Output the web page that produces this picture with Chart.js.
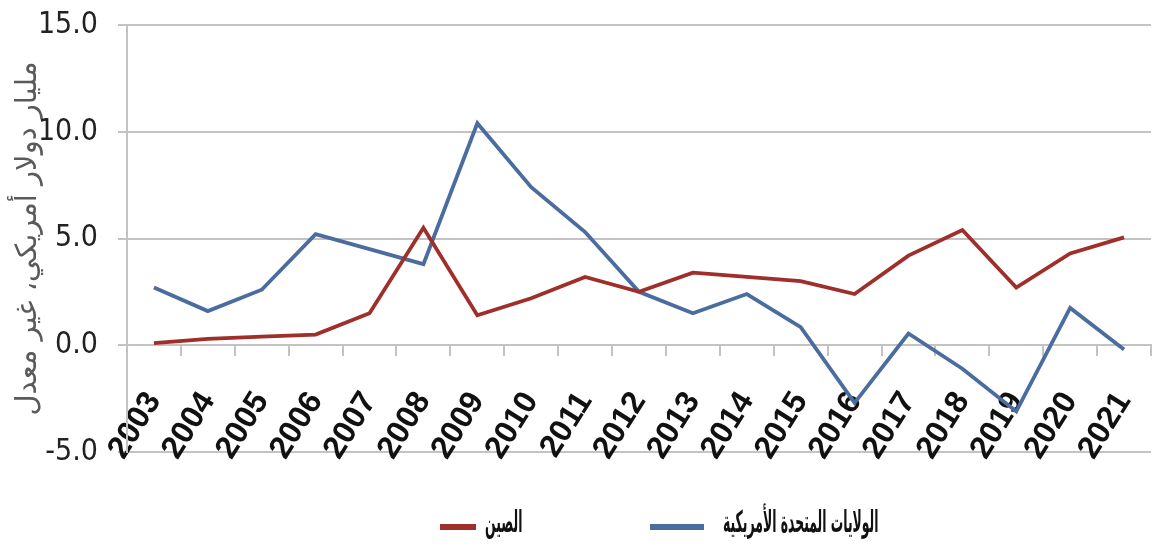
<!DOCTYPE html>
<html>
<head>
<meta charset="utf-8">
<script src="https://cdn.jsdelivr.net/npm/chart.js@4.4.1/dist/chart.umd.min.js"></script>
<style>
  html,body{margin:0;padding:0;background:#fff;}
  #wrap{width:1153px;height:556px;}
</style>
</head>
<body>
<div id="wrap"><canvas id="chart" width="1153" height="556"></canvas></div>
<script>
// ================= Data =================
const years=['2003','2004','2005','2006','2007','2008','2009','2010','2011','2012','2013','2014','2015','2016','2017','2018','2019','2020','2021'];
const chinaValues=[0.1,0.3,0.4,0.5,1.5,5.5,1.4,2.2,3.2,2.5,3.4,3.2,3.0,2.4,4.2,5.4,2.7,4.3,5.05];
const usaValues=[2.7,1.6,2.6,5.2,4.5,3.8,10.4,7.4,5.3,2.5,1.5,2.4,0.85,-2.7,0.55,-1.1,-3.1,1.75,-0.2];
const seriesNames=['الصين','الولايات المتحدة الأمريكية'];
const yAxisTitle='مليار دولار أمريكي، غير معدل';
const yMin=-5, yMax=15, yStep=5;

const redColor='#9e2f2b';
const blueColor='#4a6c9e';
const gridColor='#c3c3c3';

// ================= Legend (drawn on canvas, narrow tall text like the source) =================
const bottomLegend={
    id:'bottomLegend',
    afterDraw(chart){
        const ctx=chart.ctx;
        const items=[{x:440,w:36,tx:485},{x:650,w:54,tx:723}];
        const y=527;
        ctx.save();
        chart.data.datasets.forEach((ds,i)=>{
            const it=items[i];
            ctx.strokeStyle=ds.borderColor;
            ctx.lineWidth=6;
            ctx.beginPath(); ctx.moveTo(it.x,y); ctx.lineTo(it.x+it.w,y); ctx.stroke();
            ctx.save();
            ctx.translate(it.tx,y-3);
            ctx.scale(0.46,1);
            ctx.fillStyle='#111';
            ctx.font='bold 30px "DejaVu Sans Condensed", "DejaVu Sans", sans-serif';
            ctx.textAlign='left'; ctx.textBaseline='middle';
            ctx.fillText(ds.label,0,0);
            ctx.restore();
        });
        ctx.restore();
    }
};

// ================= Chart =================
const ctx=document.getElementById('chart').getContext('2d');
new Chart(ctx,{
    type:'line',
    data:{
        labels:years,
        datasets:[
            {label:seriesNames[0],data:chinaValues,borderColor:redColor,backgroundColor:redColor,borderWidth:3.8,pointRadius:0,tension:0,fill:false},
            {label:seriesNames[1],data:usaValues,borderColor:blueColor,backgroundColor:blueColor,borderWidth:3.8,pointRadius:0,tension:0,fill:false}
        ]
    },
    options:{
        responsive:false,
        animation:false,
        layout:{padding:{top:25,right:2,bottom:104,left:0}},
        plugins:{legend:{display:false},tooltip:{enabled:false}},
        scales:{
            x:{
                position:{y:0},
                offset:true,
                afterFit:s=>{s.paddingLeft=0;s.paddingRight=0;},
                grid:{offset:true,drawOnChartArea:false,drawTicks:true,tickLength:10,color:gridColor,lineWidth:2},
                border:{display:true,color:gridColor,width:2},
                ticks:{autoSkip:false,minRotation:58,maxRotation:58,padding:30,color:'#111',
                    font:{family:'"Liberation Sans", Arial, sans-serif',size:32,weight:'bold'}}
            },
            y:{
                min:yMin,max:yMax,
                afterFit:s=>{s.width=127;s.paddingTop=0;s.paddingBottom=0;},
                grid:{color:gridColor,lineWidth:2,tickLength:9},
                border:{display:true,color:gridColor,width:2},
                ticks:{stepSize:yStep,padding:20,color:'#222',
                    callback:v=>v.toFixed(1),
                    font:{family:'"Liberation Sans Narrow", "DejaVu Sans Condensed", sans-serif',size:30}},
                title:{display:true,text:yAxisTitle,color:'#5a5a5a',padding:{top:11,bottom:0},
                    font:{family:'"DejaVu Sans", sans-serif',size:29}}
            }
        }
    },
    plugins:[bottomLegend]
});
</script>
</body>
</html>
